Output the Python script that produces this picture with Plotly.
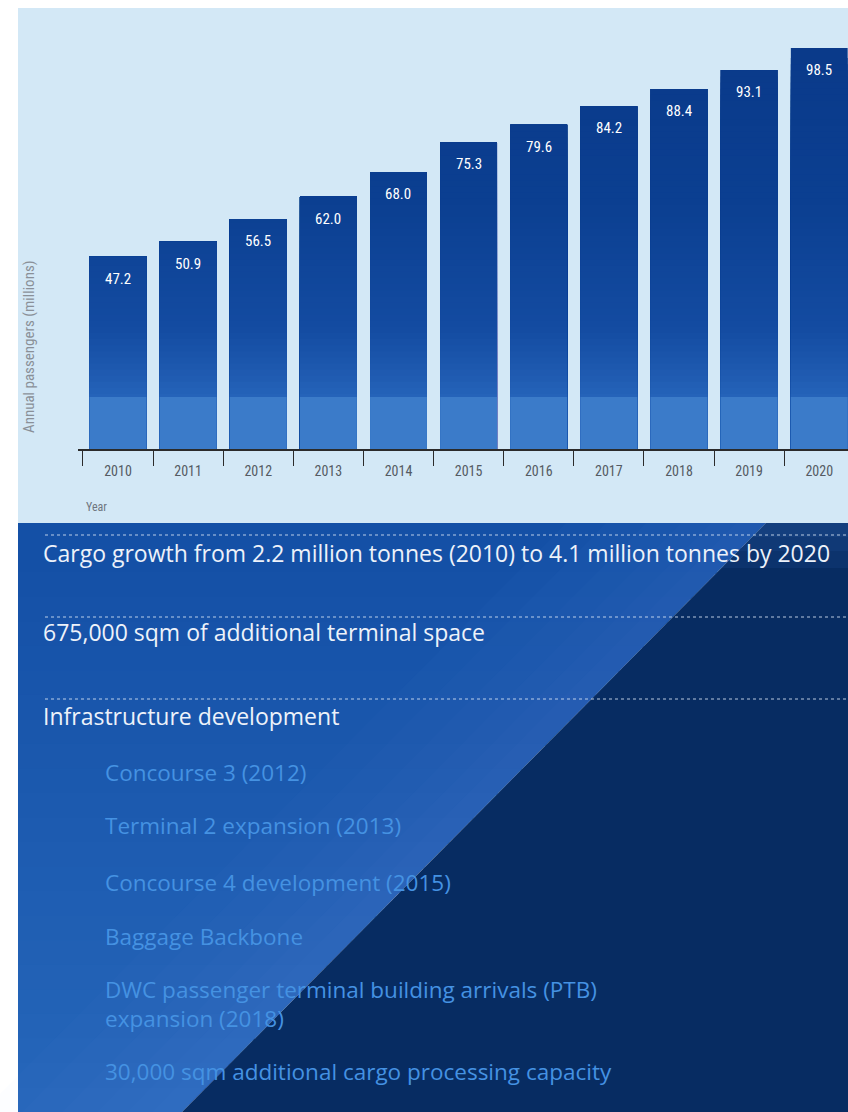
import plotly.graph_objects as go

# ---- data -------------------------------------------------------------
years = ["2010", "2011", "2012", "2013", "2014", "2015",
         "2016", "2017", "2018", "2019", "2020"]
passengers = [47.2, 50.9, 56.5, 62.0, 68.0, 75.3, 79.6, 84.2, 88.4, 93.1, 98.5]

y_title = "Annual passengers (millions)"
x_title = "Year"

headings = [
    "Cargo growth from 2.2 million tonnes (2010) to 4.1 million tonnes by 2020",
    "675,000 sqm of additional terminal space",
    "Infrastructure development",
]
items = [
    "Concourse 3 (2012)",
    "Terminal 2 expansion (2013)",
    "Concourse 4 development (2015)",
    "Baggage Backbone",
    "DWC passenger terminal building arrivals (PTB)<br>expansion (2018)",
    "30,000 sqm additional cargo processing capacity",
]

# ---- layout helpers (pixel -> paper) ---------------------------------
W, H = 848, 1112
PL, PR, PT, PB = 78, 848, 8, 449      # plot area in pixels


def X(px):
    return (px - PL) / (PR - PL)


def Y(py):
    return (PB - py) / (PB - PT)


AXFONT = "Roboto Condensed, Liberation Sans Narrow, Roboto, sans-serif"
TXFONT = "Open Sans, Noto Sans, sans-serif"

fig = go.Figure()

# base bars (dark top colour), then lighter overlay bars clipped to lower levels
fig.add_trace(go.Bar(x=years, y=passengers, marker=dict(color="#0a3a8a", line=dict(width=0)),
                     hoverinfo="x+y", showlegend=False))

stops = [(100, (10, 58, 138)), (60, (12, 64, 146)), (30, (20, 76, 162)), (13, (38, 100, 186))]


def level_color(h):
    for (h0, c0), (h1, c1) in zip(stops, stops[1:]):
        if h1 <= h <= h0:
            t = (h0 - h) / (h0 - h1)
            return "rgb(%d,%d,%d)" % tuple(int(a + (b - a) * t) for a, b in zip(c0, c1))
    return "rgb(%d,%d,%d)" % stops[-1][1]


h = 96.0
while h >= 13:
    fig.add_trace(go.Bar(x=years, y=[min(v, h) for v in passengers],
                         marker=dict(color=level_color(h), line=dict(width=0)),
                         hoverinfo="skip", showlegend=False))
    h -= 1.5
fig.add_trace(go.Bar(x=years, y=[min(v, 12.8) for v in passengers],
                     marker=dict(color="#3b7bc9", line=dict(width=0)),
                     hoverinfo="skip", showlegend=False))

# value labels inside the top of each bar (category index as x)
for i, v in enumerate(passengers):
    fig.add_annotation(x=i, y=v, text=f"{v:.1f}", showarrow=False,
                       yanchor="top", yshift=-11,
                       font=dict(family=AXFONT, size=15, color="white"))

shapes = []
# light blue chart panel
shapes.append(dict(type="rect", xref="paper", yref="paper", layer="below",
                   x0=X(18), x1=X(848), y0=Y(523), y1=Y(8),
                   fillcolor="#d3e8f6", line=dict(width=0)))


def path(pts):
    return "M " + " L ".join(f"{X(a):.5f},{Y(b):.5f}" for a, b in pts) + " Z"


def xdiag(y):
    return 766 - (y - 523) * (766 - 182) / (1112 - 523)


# lower panel, left part: vertical gradient in bands
top_c, bot_c = (20, 80, 166), (38, 102, 186)
n_band = 24
for k in range(n_band):
    y0 = 523 + (1112 - 523) * k / n_band
    y1 = min(1112, 523 + (1112 - 523) * (k + 1) / n_band + 2)
    t = k / (n_band - 1)
    col = "rgb(%d,%d,%d)" % tuple(int(a + (b - a) * t) for a, b in zip(top_c, bot_c))
    shapes.append(dict(type="path", xref="paper", yref="paper", layer="below",
                       path=path([(18, y0), (xdiag(y0), y0), (xdiag(y1), y1), (18, y1)]),
                       fillcolor=col, line=dict(width=0)))

# soft highlight along the diagonal
for wdt in [200, 160, 120, 85, 55, 30]:
    shapes.append(dict(type="path", xref="paper", yref="paper", layer="below",
                       path=path([(766 - wdt, 523), (766, 523), (182, 1112), (182 - wdt, 1112)]),
                       fillcolor="rgba(110,170,240,0.025)", line=dict(width=0)))

# right part: dark navy
shapes.append(dict(type="path", xref="paper", yref="paper", layer="below",
                   path=path([(766, 523), (848, 523), (848, 1112), (182, 1112)]),
                   fillcolor="#072c62", line=dict(width=0)))
for dy, a in [(45, 0.12), (28, 0.12), (14, 0.12)]:
    shapes.append(dict(type="path", xref="paper", yref="paper", layer="below",
                       path=path([(766, 523), (848, 523), (848, 523 + dy), (xdiag(523 + dy), 523 + dy)]),
                       fillcolor=f"rgba(50,110,190,{a})", line=dict(width=0)))

# dotted separators above the headings
for yy in [535, 617, 699]:
    shapes.append(dict(type="line", xref="paper", yref="paper", layer="below",
                       x0=X(45), x1=X(848), y0=Y(yy), y1=Y(yy),
                       line=dict(color="rgba(215,228,245,0.85)", width=1, dash="dot")))

for text, yy in zip(headings, [553, 632, 716]):
    fig.add_annotation(xref="paper", yref="paper", x=X(41), y=Y(yy), text=text,
                       showarrow=False, xanchor="left", yanchor="middle",
                       font=dict(family=TXFONT, size=23, color="#edf2fa"))

for text, yy in zip(items, [772, 825, 882, 937, 1004, 1071]):
    fig.add_annotation(xref="paper", yref="paper", x=X(103), y=Y(yy), text=text,
                       showarrow=False, xanchor="left", yanchor="middle", align="left",
                       font=dict(family=TXFONT, size=22.5, color="#4592e2"))

# axis titles
fig.add_annotation(xref="paper", yref="paper", x=X(29), y=Y(347), text=y_title,
                   textangle=-90, showarrow=False, xanchor="center", yanchor="middle",
                   font=dict(family=AXFONT, size=15, color="#8a9098"))
fig.add_annotation(xref="paper", yref="paper", x=X(84), y=Y(507), text=x_title,
                   showarrow=False, xanchor="left", yanchor="middle",
                   font=dict(family=AXFONT, size=12, color="#6f7680"))

fig.update_layout(
    width=W, height=H,
    margin=dict(l=PL, r=W - PR, t=PT, b=H - PB),
    paper_bgcolor="white",
    plot_bgcolor="rgba(0,0,0,0)",
    barmode="overlay",
    bargap=0.19,
    showlegend=False,
    shapes=shapes,
    xaxis=dict(
        type="category", range=[-0.57, 10.41],
        showline=True, linecolor="#2b2b2b", linewidth=1.5,
        ticks="outside", tickson="boundaries", ticklen=15, tickcolor="#2b2b2b", tickwidth=1.2,
        ticklabelstandoff=8,
        showgrid=False, zeroline=False,
        tickfont=dict(family=AXFONT, size=14, color="#555b63"),
    ),
    yaxis=dict(range=[0, 108.3], visible=False, showgrid=False, zeroline=False),
)

fig.write_html("out.html", config={"displayModeBar": False},
               post_script="document.body.style.margin='0';document.body.style.overflow='hidden';")
